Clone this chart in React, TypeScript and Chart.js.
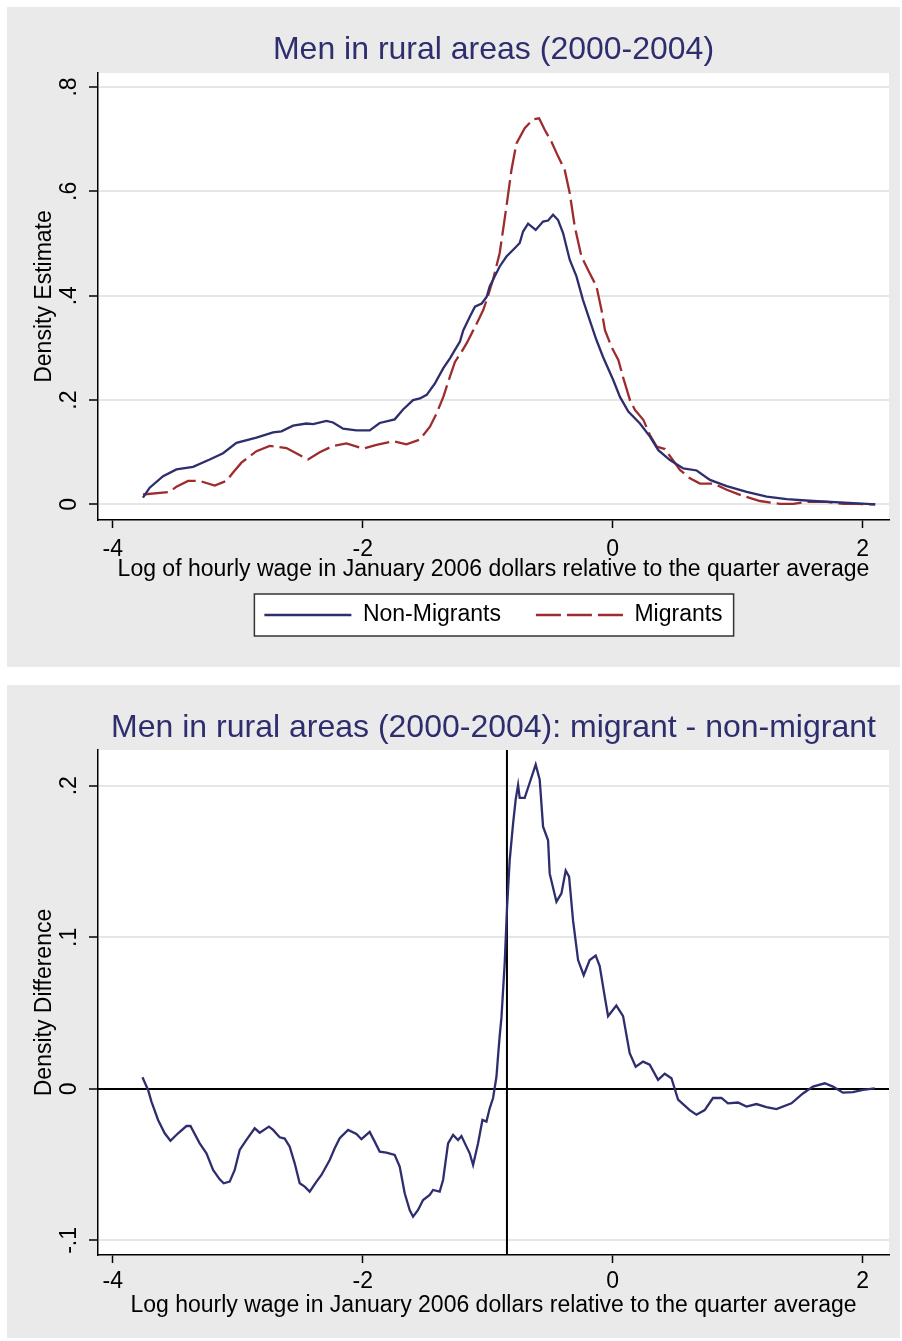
import React, { useEffect, useRef } from 'react';
import { Chart, registerables } from 'chart.js';

Chart.register(...registerables);

const FONT = "'Liberation Sans', Arial, sans-serif";

// ---- Data ----
const NON_MIGRANT_X = [-3.758, -3.704, -3.597, -3.49, -3.357, -3.224, -3.117, -3.01, -2.85, -2.717, -2.65, -2.557, -2.45, -2.397, -2.29, -2.237, -2.157, -2.05, -1.944, -1.864, -1.744, -1.677, -1.597, -1.542, -1.488, -1.422, -1.355, -1.302, -1.262, -1.222, -1.195, -1.142, -1.102, -1.048, -1.008, -0.984, -0.904, -0.85, -0.784, -0.744, -0.717, -0.677, -0.616, -0.557, -0.517, -0.477, -0.437, -0.397, -0.344, -0.29, -0.238, -0.184, -0.13, -0.078, 0.005, 0.058, 0.125, 0.218, 0.298, 0.365, 0.458, 0.565, 0.672, 0.778, 0.912, 1.072, 1.232, 1.392, 1.605, 1.818, 2.032, 2.1];
const NON_MIGRANT_Y = [0.013, 0.032, 0.054, 0.067, 0.072, 0.086, 0.098, 0.118, 0.128, 0.138, 0.14, 0.151, 0.155, 0.154, 0.16, 0.157, 0.145, 0.142, 0.142, 0.156, 0.163, 0.182, 0.2, 0.203, 0.21, 0.232, 0.261, 0.28, 0.296, 0.312, 0.334, 0.36, 0.379, 0.385, 0.398, 0.418, 0.456, 0.475, 0.491, 0.501, 0.523, 0.538, 0.526, 0.542, 0.544, 0.555, 0.545, 0.52, 0.469, 0.437, 0.392, 0.353, 0.315, 0.283, 0.238, 0.206, 0.178, 0.155, 0.13, 0.104, 0.085, 0.069, 0.065, 0.047, 0.035, 0.024, 0.015, 0.01, 0.0065, 0.004, 0.001, 0.0];

const MIGRANT_X = [-3.758, -3.544, -3.49, -3.397, -3.304, -3.184, -3.09, -3.037, -2.97, -2.85, -2.744, -2.61, -2.517, -2.437, -2.344, -2.237, -2.13, -1.997, -1.89, -1.757, -1.65, -1.544, -1.462, -1.408, -1.355, -1.302, -1.262, -1.208, -1.168, -1.115, -1.075, -1.035, -1.008, -0.957, -0.904, -0.85, -0.81, -0.77, -0.704, -0.637, -0.589, -0.544, -0.49, -0.437, -0.384, -0.344, -0.304, -0.25, -0.184, -0.13, -0.09, -0.062, -0.01, 0.045, 0.085, 0.138, 0.178, 0.245, 0.298, 0.352, 0.418, 0.472, 0.538, 0.618, 0.698, 0.805, 0.912, 1.045, 1.178, 1.338, 1.445, 1.552, 1.712, 1.845, 1.952, 2.1];
const MIGRANT_Y = [0.019, 0.024, 0.034, 0.045, 0.045, 0.036, 0.045, 0.061, 0.08, 0.102, 0.112, 0.108, 0.096, 0.086, 0.1, 0.112, 0.117, 0.107, 0.114, 0.121, 0.115, 0.124, 0.149, 0.175, 0.206, 0.245, 0.273, 0.293, 0.309, 0.334, 0.353, 0.373, 0.392, 0.431, 0.482, 0.571, 0.641, 0.692, 0.721, 0.738, 0.74, 0.718, 0.695, 0.667, 0.641, 0.597, 0.533, 0.475, 0.443, 0.418, 0.373, 0.334, 0.302, 0.277, 0.242, 0.2, 0.181, 0.162, 0.133, 0.111, 0.106, 0.088, 0.066, 0.05, 0.04, 0.04, 0.028, 0.016, 0.0065, 0.001, 0.001, 0.005, 0.005, 0.001, 0.001, 0.0];

const DIFF_X = [-3.762, -3.717, -3.69, -3.637, -3.584, -3.538, -3.477, -3.41, -3.378, -3.304, -3.25, -3.197, -3.144, -3.112, -3.064, -3.024, -2.984, -2.93, -2.864, -2.824, -2.75, -2.717, -2.664, -2.624, -2.584, -2.544, -2.504, -2.464, -2.424, -2.37, -2.33, -2.264, -2.224, -2.184, -2.117, -2.05, -2.01, -1.944, -1.904, -1.864, -1.81, -1.744, -1.704, -1.664, -1.624, -1.597, -1.557, -1.517, -1.464, -1.437, -1.384, -1.357, -1.317, -1.277, -1.237, -1.21, -1.17, -1.144, -1.117, -1.077, -1.042, -1.01, -0.984, -0.957, -0.93, -0.917, -0.904, -0.89, -0.864, -0.845, -0.824, -0.797, -0.776, -0.757, -0.744, -0.704, -0.664, -0.616, -0.584, -0.557, -0.517, -0.504, -0.45, -0.41, -0.376, -0.349, -0.317, -0.277, -0.232, -0.184, -0.136, -0.104, -0.064, -0.037, 0.029, 0.083, 0.136, 0.184, 0.243, 0.296, 0.363, 0.416, 0.47, 0.523, 0.616, 0.67, 0.736, 0.802, 0.87, 0.922, 1.002, 1.07, 1.15, 1.23, 1.31, 1.43, 1.522, 1.602, 1.696, 1.762, 1.842, 1.922, 2.002, 2.096];
const DIFF_Y = [0.0077, -0.0007, -0.0084, -0.0205, -0.0293, -0.0342, -0.0293, -0.0245, -0.0245, -0.0359, -0.0425, -0.0535, -0.0597, -0.0623, -0.0612, -0.0535, -0.0403, -0.0337, -0.026, -0.0289, -0.0249, -0.0271, -0.0319, -0.0328, -0.0381, -0.0491, -0.0623, -0.0645, -0.0678, -0.0612, -0.0568, -0.0469, -0.0392, -0.0326, -0.0271, -0.0298, -0.0332, -0.0284, -0.0348, -0.0414, -0.0421, -0.0436, -0.0513, -0.0689, -0.0799, -0.0843, -0.0799, -0.0733, -0.07, -0.0667, -0.0678, -0.0601, -0.0359, -0.0304, -0.0337, -0.0311, -0.0381, -0.0425, -0.0502, -0.0359, -0.0205, -0.0216, -0.0128, -0.006, 0.008, 0.022, 0.035, 0.047, 0.083, 0.12, 0.151, 0.175, 0.191, 0.2005, 0.192, 0.192, 0.202, 0.214, 0.204, 0.173, 0.164, 0.142, 0.1235, 0.129, 0.144, 0.14, 0.111, 0.085, 0.075, 0.085, 0.088, 0.081, 0.061, 0.048, 0.055, 0.048, 0.0235, 0.0146, 0.018, 0.016, 0.006, 0.01, 0.007, -0.007, -0.014, -0.017, -0.014, -0.006, -0.006, -0.0095, -0.009, -0.0117, -0.01, -0.012, -0.0133, -0.0095, -0.003, 0.0015, 0.0037, 0.0015, -0.0025, -0.0022, -0.0007, 0.0004];

const X_TICKS = [-4, -2, 0, 2];
const X_TICK_LABELS = ['-4', '-2', '0', '2'];
const TOP_Y_TICKS = [0, 0.2, 0.4, 0.6, 0.8];
const TOP_Y_LABELS = ['0', '.2', '.4', '.6', '.8'];
const BOTTOM_Y_TICKS = [-0.1, 0, 0.1, 0.2];
const BOTTOM_Y_LABELS = ['-.1', '0', '.1', '.2'];

const X_MIN = -4.1176;
const X_MAX = 2.2104;
const TOP_Y_MIN = -0.0299;
const TOP_Y_MAX = 0.8268;
const BOTTOM_Y_MIN = -0.1096;
const BOTTOM_Y_MAX = 0.2236;
const DIFF_VLINE_X = -0.846;
const DIFF_HLINE_Y = 0;

const TOP_TITLE = 'Men in rural areas (2000-2004)';
const BOTTOM_TITLE = 'Men in rural areas (2000-2004): migrant - non-migrant';
const TOP_X_TITLE = 'Log of hourly wage in January 2006 dollars relative to the quarter average';
const BOTTOM_X_TITLE = 'Log hourly wage in January 2006 dollars relative to the quarter average';
const TOP_Y_TITLE = 'Density Estimate';
const BOTTOM_Y_TITLE = 'Density Difference';
const SERIES_NAMES = ['Non-Migrants', 'Migrants'];

// ---- Styles ----
const NAVY = '#2e2e6e';
const MAROON = '#9e2c2f';
const PANEL_BG = '#eaeaea';
const GRID = '#e6e6e6';
const LINE_W = 2.3;

const toPoints = (xs: number[], ys: number[]) => xs.map((x, i) => ({ x, y: ys[i] }));

const panelBackground = {
  id: 'panelBackground',
  beforeDraw(chart: any) {
    const { ctx, chartArea: a, width, height } = chart;
    ctx.save();
    ctx.fillStyle = PANEL_BG;
    ctx.fillRect(0, 0, width, height);
    ctx.fillStyle = '#ffffff';
    ctx.fillRect(a.left, a.top, a.right - a.left, a.bottom - a.top);
    const lg = chart.legend;
    if (lg && lg.options.display && lg.legendHitBoxes && lg.legendHitBoxes.length) {
      const hb = lg.legendHitBoxes;
      const first = hb[0];
      const last = hb[hb.length - 1];
      const cy = first.top + first.height / 2;
      const l = first.left - 10;
      const r = last.left + last.width + 11;
      const t = cy - 21;
      const b = cy + 21;
      ctx.fillStyle = '#ffffff';
      ctx.fillRect(l, t, r - l, b - t);
      ctx.strokeStyle = '#333333';
      ctx.lineWidth = 1.5;
      ctx.strokeRect(l, t, r - l, b - t);
    }
    ctx.restore();
  },
};

const refLines = {
  id: 'refLines',
  beforeDatasetsDraw(chart: any) {
    const { ctx, chartArea: a, scales } = chart;
    const px = scales.x.getPixelForValue(DIFF_VLINE_X);
    const py = scales.y.getPixelForValue(DIFF_HLINE_Y);
    ctx.save();
    ctx.strokeStyle = '#000000';
    ctx.lineWidth = 2;
    ctx.beginPath();
    ctx.moveTo(a.left, py);
    ctx.lineTo(a.right, py);
    ctx.moveTo(px, a.top);
    ctx.lineTo(px, a.bottom);
    ctx.stroke();
    ctx.restore();
  },
};

const legendLabels = (chart: any) => {
  const items = (Chart as any).defaults.plugins.legend.labels.generateLabels(chart);
  return items.map((it: any) => {
    const ds = chart.data.datasets[it.datasetIndex];
    return {
      ...it,
      pointStyle: 'line',
      lineDash: ds.borderDash || [],
      lineWidth: LINE_W,
      strokeStyle: ds.borderColor,
      fillStyle: ds.borderColor,
    };
  });
};

type AxisCfg = {
  title: string;
  xTitle: string;
  yTitle: string;
  yMin: number;
  yMax: number;
  yTicks: number[];
  yLabels: string[];
  xScaleHeight: number;
  xTitlePadBottom: number;
  xTickPad: number;
  yTickPad: number;
  titlePad: { top: number; bottom: number };
  bottomPad: number;
  legend: boolean;
};

function makeOptions(c: AxisCfg): any {
  return {
    responsive: false,
    animation: false,
    layout: { padding: { left: 0, right: 11, top: 0, bottom: c.bottomPad } },
    elements: { point: { radius: 0 }, line: { tension: 0 } },
    plugins: {
      tooltip: { enabled: false },
      title: {
        display: true,
        text: c.title,
        fullSize: false,
        color: NAVY,
        font: { family: FONT, size: 32, weight: 'normal' },
        padding: c.titlePad,
      },
      legend: {
        display: c.legend,
        position: 'bottom',
        fullSize: false,
        labels: {
          usePointStyle: true,
          pointStyle: 'line',
          pointStyleWidth: 87,
          boxWidth: 87,
          padding: 35,
          color: '#000000',
          font: { family: FONT, size: 23 },
          generateLabels: legendLabels,
        },
      },
    },
    scales: {
      x: {
        type: 'linear',
        min: X_MIN,
        max: X_MAX,
        afterBuildTicks: (s: any) => {
          s.ticks = X_TICKS.map((value) => ({ value }));
        },
        afterFit: (s: any) => {
          s.height = c.xScaleHeight;
        },
        grid: {
          drawOnChartArea: false,
          drawTicks: true,
          tickLength: 8,
          tickColor: '#000000',
          tickWidth: 1.5,
        },
        border: { display: true, color: '#000000', width: 1.5 },
        ticks: {
          color: '#000000',
          font: { family: FONT, size: 23 },
          padding: c.xTickPad,
          maxRotation: 0,
          minRotation: 0,
          autoSkip: false,
          callback: (_v: any, i: number) => X_TICK_LABELS[i],
        },
        title: {
          display: true,
          text: c.xTitle,
          color: '#000000',
          font: { family: FONT, size: 23 },
          padding: { top: 0, bottom: c.xTitlePadBottom },
        },
      },
      y: {
        type: 'linear',
        min: c.yMin,
        max: c.yMax,
        afterBuildTicks: (s: any) => {
          s.ticks = c.yTicks.map((value) => ({ value }));
        },
        afterFit: (s: any) => {
          s.width = 91;
        },
        grid: {
          drawOnChartArea: true,
          color: GRID,
          lineWidth: 2,
          drawTicks: true,
          tickLength: 9,
          tickColor: '#000000',
          tickWidth: 1.5,
        },
        border: { display: true, color: '#000000', width: 1.5 },
        ticks: {
          color: '#000000',
          font: { family: FONT, size: 23 },
          padding: c.yTickPad,
          minRotation: 90,
          maxRotation: 90,
          crossAlign: 'center',
          autoSkip: false,
          callback: (_v: any, i: number) => c.yLabels[i],
        },
        title: {
          display: true,
          text: c.yTitle,
          color: '#000000',
          font: { family: FONT, size: 23 },
          padding: { top: 23.7, bottom: 0 },
        },
      },
    },
  };
}

function TopPanel() {
  const ref = useRef<HTMLCanvasElement>(null);
  useEffect(() => {
    const chart = new Chart(ref.current as HTMLCanvasElement, {
      type: 'line',
      data: {
        datasets: [
          {
            label: SERIES_NAMES[0],
            data: toPoints(NON_MIGRANT_X, NON_MIGRANT_Y),
            borderColor: NAVY,
            backgroundColor: NAVY,
            borderWidth: LINE_W,
            pointRadius: 0,
            fill: false,
          },
          {
            label: SERIES_NAMES[1],
            data: toPoints(MIGRANT_X, MIGRANT_Y),
            borderColor: MAROON,
            backgroundColor: MAROON,
            borderWidth: LINE_W,
            borderDash: [25, 6],
            pointRadius: 0,
            fill: false,
          },
        ],
      },
      options: makeOptions({
        title: TOP_TITLE,
        xTitle: TOP_X_TITLE,
        yTitle: TOP_Y_TITLE,
        yMin: TOP_Y_MIN,
        yMax: TOP_Y_MAX,
        yTicks: TOP_Y_TICKS,
        yLabels: TOP_Y_LABELS,
        xScaleHeight: 48.5,
        xTitlePadBottom: -15.3,
        xTickPad: 8.2,
        yTickPad: 9.4,
        titlePad: { top: 23.8, bottom: 3.8 },
        bottomPad: 30.5,
        legend: true,
      }),
      plugins: [panelBackground],
    } as any);
    return () => chart.destroy();
  }, []);
  return (
    <canvas
      ref={ref}
      width={893}
      height={660}
      style={{ position: 'absolute', left: 7, top: 7, width: 893, height: 660 }}
    />
  );
}

function BottomPanel() {
  const ref = useRef<HTMLCanvasElement>(null);
  useEffect(() => {
    const chart = new Chart(ref.current as HTMLCanvasElement, {
      type: 'line',
      data: {
        datasets: [
          {
            label: 'migrant - non-migrant',
            data: toPoints(DIFF_X, DIFF_Y),
            borderColor: NAVY,
            backgroundColor: NAVY,
            borderWidth: LINE_W,
            pointRadius: 0,
            fill: false,
          },
        ],
      },
      options: makeOptions({
        title: BOTTOM_TITLE,
        xTitle: BOTTOM_X_TITLE,
        yTitle: BOTTOM_Y_TITLE,
        yMin: BOTTOM_Y_MIN,
        yMax: BOTTOM_Y_MAX,
        yTicks: BOTTOM_Y_TICKS,
        yLabels: BOTTOM_Y_LABELS,
        xScaleHeight: 83,
        xTitlePadBottom: 18.7,
        xTickPad: 5.2,
        yTickPad: 5.6,
        titlePad: { top: 23.8, bottom: 2.8 },
        bottomPad: 0,
        legend: false,
      }),
      plugins: [panelBackground, refLines],
    } as any);
    return () => chart.destroy();
  }, []);
  return (
    <canvas
      ref={ref}
      width={893}
      height={653}
      style={{ position: 'absolute', left: 7, top: 685, width: 893, height: 653 }}
    />
  );
}

export default function App() {
  return (
    <div
      style={{
        position: 'absolute',
        left: 0,
        top: 0,
        width: 902,
        height: 1341,
        background: '#ffffff',
        overflow: 'hidden',
      }}
    >
      <TopPanel />
      <BottomPanel />
    </div>
  );
}
